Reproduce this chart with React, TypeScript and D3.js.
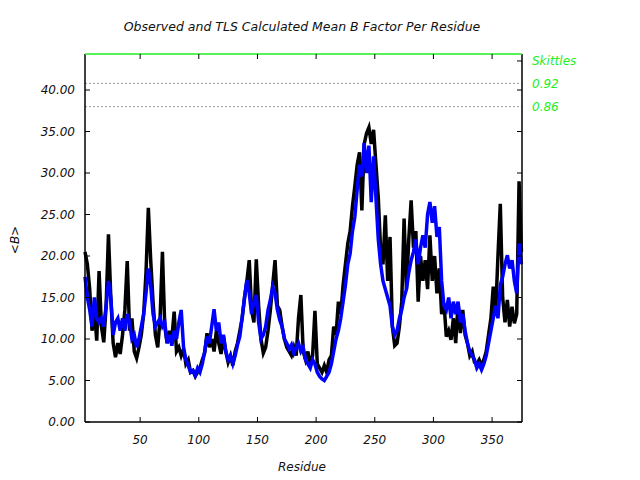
import React from "react";
import * as d3 from "d3";

const residues: number[] = d3.range(3, 376, 2);

const observed: number[] = [
  20.5, 19.0, 16.0, 11.0, 13.5, 9.8, 18.2, 11.5, 9.6, 14.0, 22.6, 15.0, 9.5, 7.8, 9.5, 8.2, 10.5, 13.5, 19.4, 11.0,
  12.5, 8.5, 7.7, 9.0, 10.5, 13.0, 18.0, 25.8, 19.5, 14.5, 10.5, 9.0, 12.5, 20.5, 11.5, 9.5, 11.0, 10.0, 13.3, 8.5,
  9.0, 8.0, 8.8, 7.0, 7.5, 6.0, 6.2, 5.5, 6.0,
  6.5, 7.5, 8.3, 10.7, 9.0, 10.0, 8.5, 11.0, 9.5, 8.2, 10.3, 8.5, 7.2, 8.0, 6.8, 8.5, 9.5, 11.0, 12.5, 15.0,
  17.0, 19.5, 13.5, 12.0, 19.6, 14.0, 10.0, 8.3, 9.0, 11.0, 13.5, 16.5, 19.5, 14.0, 13.5, 11.5, 10.0, 9.0, 8.5, 8.0,
  9.0, 8.0, 12.5, 15.3, 8.5, 7.5, 8.5, 7.0, 8.0, 13.4, 7.0, 6.5,
  6.0, 6.8, 6.0, 7.5, 8.0, 11.5, 10.5, 14.5, 13.0, 16.5, 19.0, 21.5, 23.0, 26.0, 28.4, 31.0, 32.5, 25.5, 33.5, 34.8,
  35.5, 33.5, 35.2, 31.0, 27.0, 20.7, 19.0, 24.9, 17.0, 22.3, 11.5, 9.2, 9.5, 11.5, 14.5, 24.5, 16.0, 22.0, 26.7, 21.0,
  23.0, 14.5, 20.0, 17.0, 19.5, 16.0,
  22.5, 17.0, 20.0, 15.5, 18.5, 13.0, 14.3, 10.3, 11.0, 9.9, 12.5, 9.5, 14.3, 10.7, 13.5, 10.5, 9.5, 8.0, 8.5, 7.2,
  7.0, 7.5, 6.8, 7.5, 8.5, 10.5, 12.5, 16.3, 13.0, 20.0, 26.3, 15.0, 12.0, 14.7, 11.5, 13.9, 11.9, 13.0, 29.0, 20.5,
];

const calculated: number[] = [
  17.5, 15.0, 13.5, 11.5, 15.0, 12.5, 12.0, 12.5, 11.5, 14.0, 17.0, 15.0, 10.5, 12.0, 12.5, 11.0, 12.5, 11.0, 13.0, 12.0,
  10.0, 10.5, 9.0, 10.0, 11.5, 13.0, 15.5, 18.5, 16.5, 13.0, 11.5, 12.0, 12.5, 11.5, 12.0, 9.5, 10.5, 9.2, 11.0, 10.0,
  12.0, 13.5, 9.0, 7.5, 6.8, 6.0, 6.2, 5.6, 6.5,
  6.0, 7.0, 8.5, 10.3, 9.5, 11.5, 13.6, 11.0, 12.0, 9.5, 10.5, 8.5, 7.5, 8.0, 7.0, 8.0, 9.3, 10.3, 12.7, 15.0,
  17.1, 15.5, 13.0, 14.5, 15.3, 12.0, 10.0, 10.5, 11.5, 13.5, 14.7, 16.3, 15.5, 13.5, 12.3, 11.5, 10.0, 9.5, 8.8, 9.3,
  8.3, 9.0, 9.5, 8.5, 9.0, 7.5, 7.0, 6.5, 7.5, 7.0, 6.0, 5.5,
  5.2, 5.0, 5.5, 6.0, 7.0, 8.5, 10.0, 11.0, 12.5, 14.5, 16.5, 19.0, 20.3, 23.0, 24.7, 28.0, 31.0, 29.6, 33.6, 30.0,
  33.3, 26.5, 32.0, 27.0, 22.0, 19.0, 17.0, 16.0, 15.0, 14.0, 11.5, 10.5, 11.0, 12.5, 13.5, 15.0, 16.0, 18.0, 19.5, 20.5,
  22.0, 19.0, 21.0, 22.5, 21.0, 25.0,
  26.5, 24.0, 26.0, 22.3, 23.5, 17.0, 14.0, 13.5, 15.0, 12.5, 14.5, 13.0, 14.5, 12.0, 13.0, 11.0, 9.5, 8.5, 8.0, 7.5,
  6.5, 7.0, 6.3, 7.0, 8.0, 9.5, 11.0, 12.5, 14.0, 12.5, 16.5, 17.5, 19.0, 20.1, 18.5, 19.5, 17.0, 15.5, 21.5, 19.0,
];

const yTicks: number[] = [0, 5, 10, 15, 20, 25, 30, 35, 40];
const xTicks: number[] = [50, 100, 150, 200, 250, 300, 350];
const skittlesTitle = "Skittles";
const skittlesLabels: string[] = ["0.92", "0.86"];
const skittlesValues: number[] = [40.8, 38.0];
const skittlesTitleValue = 43.5;

const W = 640;
const H = 480;
const L = 85, R = 522, T = 54, B = 422;
const FONT = "DejaVu Sans, sans-serif";
const GREEN = "#22ee22";

export default function App() {
  const x = d3.scaleLinear().domain([3, 375.5]).range([L, R]);
  const y = d3.scaleLinear().domain([0, 44.34]).range([B, T]);
  const line = d3
    .line<number>()
    .x((_, i) => x(residues[i]))
    .y((d) => y(d));

  return (
    <svg
      width={W}
      height={H}
      style={{ position: "absolute", left: 0, top: 0, background: "#fff" }}
      fontFamily={FONT}
    >
      <rect x={0} y={0} width={W} height={H} fill="#fff" />
      <text x={302} y={31} textAnchor="middle" fontSize={12.5} fontStyle="italic" fill="#111">
        Observed and TLS Calculated Mean B Factor Per Residue
      </text>

      {skittlesValues.map((v, i) => (
        <line key={"d" + i} x1={L} x2={R} y1={y(v)} y2={y(v)} stroke="#999" strokeWidth={1} strokeDasharray="2,2" />
      ))}

      <path d={line(observed) || ""} fill="none" stroke="#000" strokeWidth={3.5} strokeLinejoin="miter" />
      <path d={line(calculated) || ""} fill="none" stroke="#0000ff" strokeWidth={3.5} strokeLinejoin="miter" />

      {/* axes */}
      <line x1={L} x2={L} y1={T} y2={B} stroke="#000" strokeWidth={1.5} />
      <line x1={R} x2={R} y1={T} y2={B} stroke="#000" strokeWidth={1.5} />
      <line x1={L} x2={R} y1={B} y2={B} stroke="#000" strokeWidth={1.5} />
      <line x1={L} x2={R} y1={T} y2={T} stroke={GREEN} strokeWidth={1.5} />

      {yTicks.map((t) => (
        <g key={"y" + t}>
          <line x1={L} x2={L + 5} y1={y(t)} y2={y(t)} stroke="#000" />
          <line x1={R - 5} x2={R} y1={y(t)} y2={y(t)} stroke="#000" />
          <text x={75} y={y(t)} dy="0.35em" textAnchor="end" fontSize={12} fontStyle="italic" fill="#111">
            {t.toFixed(2)}
          </text>
        </g>
      ))}
      <line x1={R - 5} x2={R} y1={y(skittlesTitleValue)} y2={y(skittlesTitleValue)} stroke="#000" />

      {xTicks.map((t) => (
        <g key={"x" + t}>
          <line x1={x(t)} x2={x(t)} y1={B} y2={B - 5} stroke="#000" />
          <line x1={x(t)} x2={x(t)} y1={T} y2={T + 5} stroke="#000" />
          <text x={x(t)} y={440} dy="0.35em" textAnchor="middle" fontSize={12} fontStyle="italic" fill="#111">
            {t}
          </text>
        </g>
      ))}

      <text x={302} y={467} dy="0.35em" textAnchor="middle" fontSize={12} fontStyle="italic" fill="#111">
        Residue
      </text>
      <text
        transform="translate(15,240) rotate(-90)"
        textAnchor="middle"
        dy="0.35em"
        fontSize={12}
        fontStyle="italic"
        fill="#111"
      >
        {"<B>"}
      </text>

      <text x={532} y={y(skittlesTitleValue)} dy="0.35em" fontSize={12} fontStyle="italic" fill={GREEN}>
        {skittlesTitle}
      </text>
      {skittlesLabels.map((s, i) => (
        <text key={"s" + i} x={532} y={y(skittlesValues[i])} dy="0.35em" fontSize={12} fontStyle="italic" fill={GREEN}>
          {s}
        </text>
      ))}
    </svg>
  );
}
